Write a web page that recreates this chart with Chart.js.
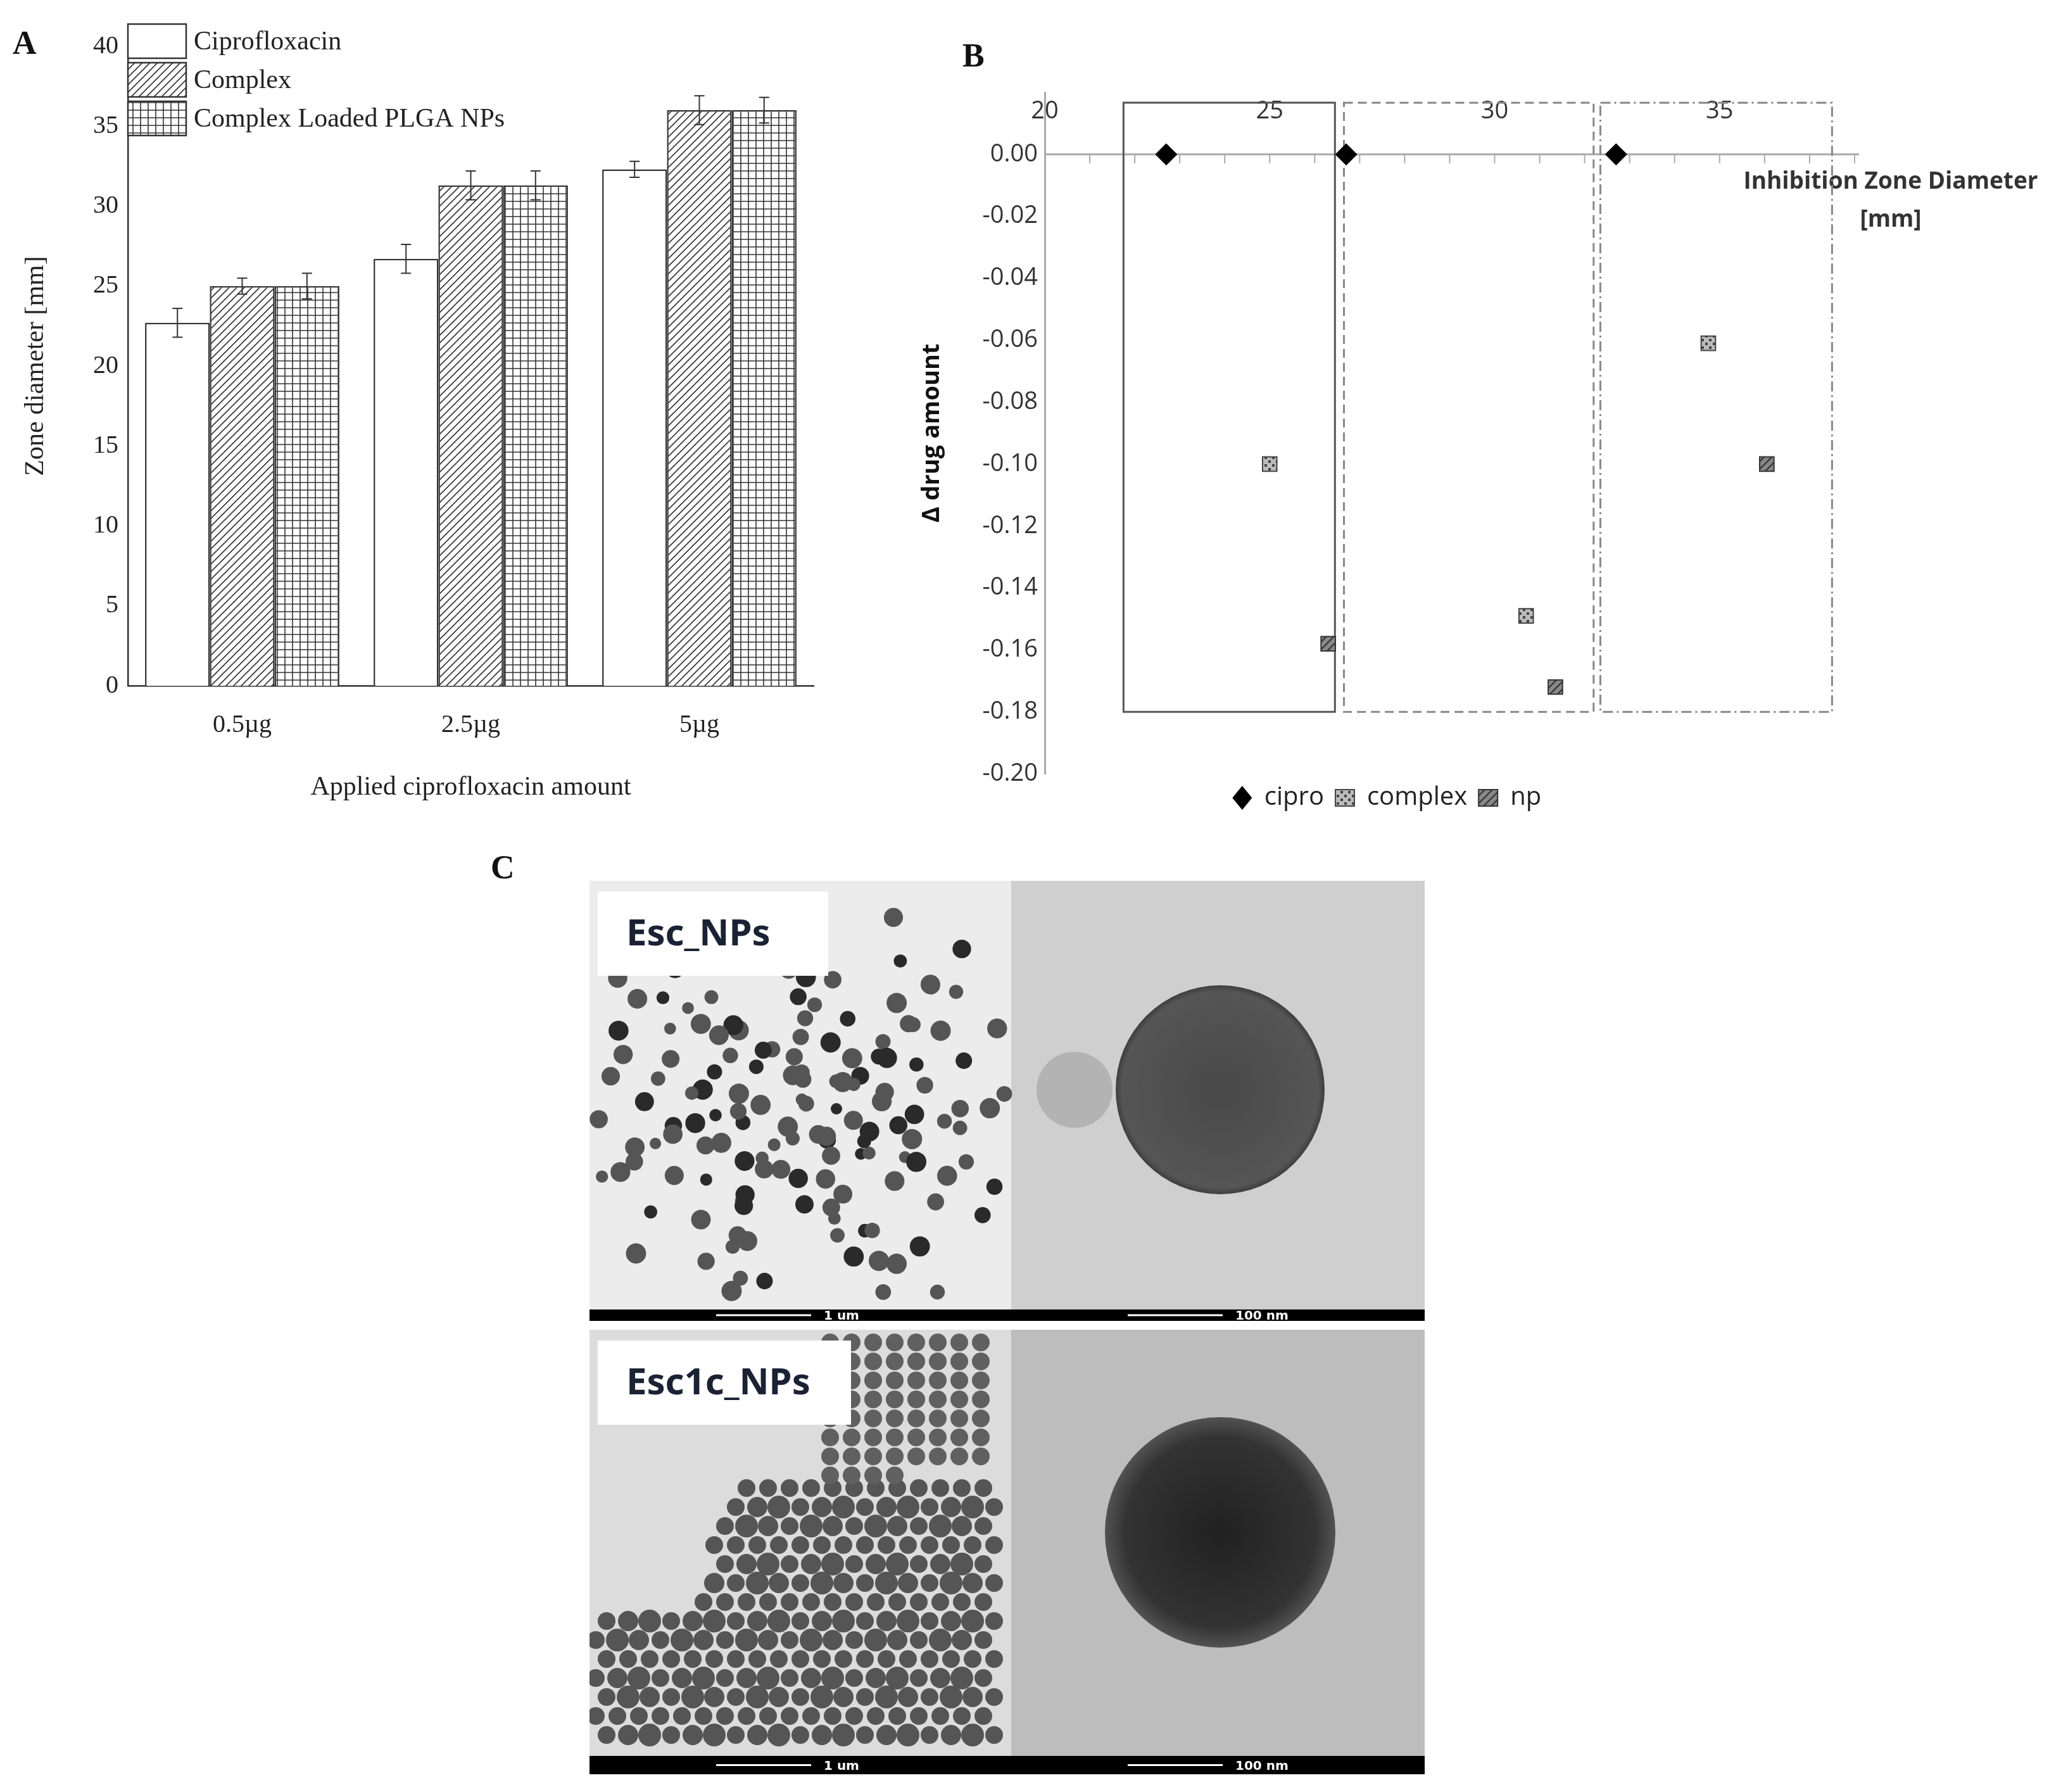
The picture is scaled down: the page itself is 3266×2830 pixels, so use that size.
<!DOCTYPE html>
<html>
<head>
<meta charset="utf-8">
<script src="https://cdn.jsdelivr.net/npm/chart.js@4"></script>
<style>
body { margin: 0; background: #fff; width: 3266px; height: 2830px; position: relative; overflow: hidden; }
canvas { position: absolute; }
.lbl { position: absolute; font: bold 52px "Liberation Serif"; color: #111; }
</style>
</head>
<body>
<div class="lbl" style="left:20px;top:38px">A</div>
<div class="lbl" style="left:1520px;top:58px">B</div>
<div class="lbl" style="left:775px;top:1340px">C</div>
<canvas id="chartA" style="left:0;top:0" width="1330" height="1300"></canvas>
<canvas id="chartB" style="left:1420px;top:0" width="1846" height="1300"></canvas>
<canvas id="micro" style="left:931px;top:1391px" width="1319" height="1411"></canvas>
<script>
// ---- panel A data
const amounts = ['0.5µg', '2.5µg', '5µg'];
const seriesA = ['Ciprofloxacin', 'Complex', 'Complex Loaded PLGA NPs'];
const ciproZone = [22.7, 26.7, 32.3];
const complexZone = [25.0, 31.3, 36.0];
const npZone = [25.0, 31.3, 36.0];
const ciproErr = [0.9, 0.9, 0.5];
const complexErr = [0.5, 0.9, 0.9];
const npErr = [0.8, 0.9, 0.8];

// ---- panel B data
const ciproPts = [[22.7, 0], [26.7, 0], [32.7, 0]];
const complexPts = [[25.0, -0.10], [30.7, -0.149], [34.75, -0.061]];
const npPts = [[26.3, -0.158], [31.35, -0.172], [36.05, -0.10]];
const xTicksB = [20, 25, 30, 35];
const boxX = [[21.75, 26.45], [26.65, 32.2], [32.35, 37.5]];
const boxY = [0.0167, -0.18];

function hatch(kind, bg) {
    const c = document.createElement('canvas');
    c.width = 12; c.height = 12;
    const g = c.getContext('2d');
    g.fillStyle = bg || '#fff'; g.fillRect(0, 0, 12, 12);
    g.strokeStyle = '#333'; g.lineWidth = 1.6;
    g.beginPath();
    if (kind === 'diag') {
        g.moveTo(0, 12); g.lineTo(12, 0);
        g.moveTo(-6, 6); g.lineTo(6, -6);
        g.moveTo(6, 18); g.lineTo(18, 6);
    } else if (kind === 'grid') {
        g.moveTo(6, 0); g.lineTo(6, 12);
        g.moveTo(0, 6); g.lineTo(12, 6);
    } else if (kind === 'dots') {
        g.fillStyle = '#444';
        g.fillRect(1, 1, 4, 4); g.fillRect(7, 7, 4, 4);
    } else {
        g.lineWidth = 2.2;
        g.moveTo(0, 12); g.lineTo(12, 0);
        g.moveTo(-6, 6); g.lineTo(6, -6);
        g.moveTo(6, 18); g.lineTo(18, 6);
    }
    g.stroke();
    return document.getElementById('chartA').getContext('2d').createPattern(c, 'repeat');
}
const fillsA = ['#fff', hatch('diag'), hatch('grid')];
const errsA = [ciproErr, complexErr, npErr];

const errorBars = {
    id: 'errorBars',
    afterDatasetsDraw(chart) {
        const ctx = chart.ctx, y = chart.scales.y;
        ctx.save(); ctx.strokeStyle = '#333'; ctx.lineWidth = 2;
        chart.data.datasets.forEach((ds, i) => {
            chart.getDatasetMeta(i).data.forEach((bar, j) => {
                const v = ds.data[j], e = errsA[i][j];
                const t = y.getPixelForValue(v + e), b = y.getPixelForValue(v - e);
                ctx.beginPath();
                ctx.moveTo(bar.x, t); ctx.lineTo(bar.x, b);
                ctx.moveTo(bar.x - 8, t); ctx.lineTo(bar.x + 8, t);
                ctx.moveTo(bar.x - 8, b); ctx.lineTo(bar.x + 8, b);
                ctx.stroke();
            });
        });
        ctx.restore();
    }
};
const legendA = {
    id: 'legendA',
    afterDraw(chart) {
        const ctx = chart.ctx;
        ctx.save();
        ctx.font = '42px "Liberation Serif"'; ctx.textBaseline = 'middle';
        seriesA.forEach((s, i) => {
            const top = 38 + i * 61;
            ctx.fillStyle = fillsA[i]; ctx.fillRect(202, top, 92, 54);
            ctx.strokeStyle = '#333'; ctx.lineWidth = 2.5; ctx.strokeRect(202, top, 92, 54);
            ctx.fillStyle = '#222'; ctx.fillText(s, 306, top + 29);
        });
        ctx.restore();
    }
};

new Chart(document.getElementById('chartA'), {
    type: 'bar',
    data: {
        labels: amounts,
        datasets: [ciproZone, complexZone, npZone].map((d, i) => ({
            label: seriesA[i], data: d, backgroundColor: fillsA[i],
            borderColor: '#333', borderWidth: 2.5, categoryPercentage: 0.85, barPercentage: 1
        }))
    },
    options: {
        responsive: false, animation: false,
        layout: { padding: { top: 73, right: 45, left: 32, bottom: 27 } },
        plugins: { legend: { display: false }, tooltip: { enabled: false } },
        scales: {
            x: {
                afterFit: s => { s.height = 190; },
                grid: { display: false },
                border: { color: '#333', width: 2.5 },
                ticks: { color: '#222', font: { family: 'Liberation Serif', size: 40 }, padding: 30 },
                title: { display: true, text: 'Applied ciprofloxacin amount', color: '#222', font: { family: 'Liberation Serif', size: 42 }, padding: { top: 0 } }
            },
            y: {
                min: 0, max: 40,
                afterFit: s => { s.width = 170; },
                grid: { display: false, drawOnChartArea: false, drawTicks: true, tickLength: 12, color: '#333' },
                border: { color: '#333', width: 2.5 },
                ticks: { stepSize: 5, color: '#222', font: { family: 'Liberation Serif', size: 40 } },
                title: { display: true, text: 'Zone diameter [mm]', color: '#222', font: { family: 'Liberation Serif', size: 42 }, padding: { top: 0, bottom: 0 } }
            }
        }
    },
    plugins: [errorBars, legendA]
});

// ---- panel B
const boxesB = {
    id: 'boxesB',
    beforeDatasetsDraw(chart) {
        const ctx = chart.ctx, x = chart.scales.x, y = chart.scales.y;
        ctx.save();
        const y0 = y.getPixelForValue(0);
        ctx.strokeStyle = '#aaa'; ctx.lineWidth = 3;
        ctx.beginPath(); ctx.moveTo(x.left, y0); ctx.lineTo(x.right, y0); ctx.stroke();
        ctx.lineWidth = 2;
        for (let v = 21; v <= 38; v++) {
            const px = x.getPixelForValue(v);
            ctx.beginPath(); ctx.moveTo(px, y0); ctx.lineTo(px, y0 + 14); ctx.stroke();
        }
        ctx.fillStyle = '#333'; ctx.font = '38px "Open Sans"'; ctx.textAlign = 'center'; ctx.textBaseline = 'middle';
        xTicksB.forEach(v => ctx.fillText(String(v), x.getPixelForValue(v), y0 - 68));
        ctx.font = 'bold 37px "Open Sans"';
        ctx.fillText('Inhibition Zone Diameter', x.right + 50, y0 + 44);
        ctx.fillText('[mm]', x.right + 50, y0 + 104);
        const dashes = [[], [14, 8], [16, 6, 3, 6]];
        boxX.forEach((b, i) => {
            ctx.setLineDash(dashes[i]);
            ctx.strokeStyle = i === 0 ? '#555' : '#888'; ctx.lineWidth = 3;
            const l = x.getPixelForValue(b[0]), r = x.getPixelForValue(b[1]);
            const t = y.getPixelForValue(boxY[0]), bt = y.getPixelForValue(boxY[1]);
            ctx.strokeRect(l, t, r - l, bt - t);
        });
        ctx.restore();
    }
};
const toXY = p => ({ x: p[0], y: p[1] });
const patComplex = hatch('dots', '#bbb');
const patNp = hatch('np', '#888');
new Chart(document.getElementById('chartB'), {
    type: 'scatter',
    data: {
        datasets: [
            { label: 'cipro', data: ciproPts.map(toXY), pointStyle: 'rectRot', pointRadius: 17, backgroundColor: '#000', borderColor: '#000' },
            { label: 'complex', data: complexPts.map(toXY), pointStyle: 'rect', pointRadius: 16, backgroundColor: patComplex, borderColor: '#444', borderWidth: 2 },
            { label: 'np', data: npPts.map(toXY), pointStyle: 'rect', pointRadius: 16, backgroundColor: patNp, borderColor: '#333', borderWidth: 2 }
        ]
    },
    options: {
        responsive: false, animation: false,
        layout: { padding: { top: 146, right: 330, left: 25, bottom: 10 } },
        plugins: {
            tooltip: { enabled: false },
            legend: {
                position: 'bottom',
                labels: { usePointStyle: true, pointStyleWidth: 30, boxHeight: 26, color: '#222', font: { family: 'Open Sans', size: 40 }, padding: 18 }
            }
        },
        scales: {
            x: { type: 'linear', min: 20, max: 38.1, display: false },
            y: {
                min: -0.20, max: 0.02,
                afterFit: s => { s.width = 205; },
                grid: { display: false },
                border: { color: '#aaa', width: 3 },
                ticks: {
                    stepSize: 0.02, color: '#333', font: { family: 'Open Sans', size: 38 },
                    callback: v => v > 0.01 ? '' : v.toFixed(2)
                },
                title: { display: true, text: 'Δ drug amount', color: '#111', font: { family: 'Open Sans', size: 38, weight: 'bold' } }
            }
        }
    },
    plugins: [boxesB]
});

// ---- panel C: micrograph sketches
(function () {
    const c = document.getElementById('micro').getContext('2d');
    const W = 666, H = 677, R = 653;
    function panel(x, y, w, h, bg) { c.fillStyle = bg; c.fillRect(x, y, w, h); }
    function dot(x, y, r, col) { c.fillStyle = col; c.beginPath(); c.arc(x, y, r, 0, Math.PI * 2); c.fill(); }
    panel(0, 0, W, H, '#ececec'); panel(W, 0, R, H, '#cfcfcf');
    for (let i = 0; i < 160; i++) {
        const a = i * 2.399, rr = 9 + 7 * Math.abs(Math.sin(i * 1.7));
        const cx = 330 + Math.cos(a) * (60 + i * 2.1) + 80 * Math.sin(i * 0.37);
        const cy = 360 + Math.sin(a) * (40 + i * 1.8);
        if (cx > 10 && cx < W - 10 && cy > 10 && cy < H - 10) dot(cx, cy, rr, i % 3 ? '#555' : '#2a2a2a');
    }
    const g1 = c.createRadialGradient(W + 330, 330, 20, W + 330, 330, 170);
    g1.addColorStop(0, '#4a4a4a'); g1.addColorStop(0.9, '#555'); g1.addColorStop(1, '#333');
    c.fillStyle = g1; c.beginPath(); c.arc(W + 330, 330, 165, 0, Math.PI * 2); c.fill();
    dot(W + 100, 330, 60, 'rgba(160,160,160,0.6)');
    const y2 = 709;
    panel(0, y2, W, 673, '#dcdcdc'); panel(W, y2, R, 673, '#bdbdbd');
    for (let row = 0; row < 20; row++) {
        for (let col = 0; col < 20; col++) {
            const cx = col * 34 + (row % 2) * 17 + 10, cy = y2 + 250 + row * 30;
            if (cx < W - 12 && cy < y2 + 660 && (cx + row * 9 > 220 || row > 6)) dot(cx, cy, 14 + (col * row % 3) * 2, '#555');
        }
    }
    for (let i = 0; i < 60; i++) dot(380 + (i % 8) * 34, y2 + 20 + Math.floor(i / 8) * 30, 14, '#606060');
    const g2 = c.createRadialGradient(W + 330, y2 + 320, 10, W + 330, y2 + 320, 185);
    g2.addColorStop(0, '#222'); g2.addColorStop(0.8, '#333'); g2.addColorStop(1, '#555');
    c.fillStyle = g2; c.beginPath(); c.arc(W + 330, y2 + 320, 182, 0, Math.PI * 2); c.fill();
    [[H, 18], [y2 + 673, 29]].forEach(([sy, sh]) => {
        c.fillStyle = '#000'; c.fillRect(0, sy, 1319, sh);
        c.strokeStyle = '#fff'; c.lineWidth = 3; c.fillStyle = '#fff'; c.font = 'bold 20px "DejaVu Sans"';
        c.beginPath(); c.moveTo(200, sy + sh / 2); c.lineTo(350, sy + sh / 2); c.moveTo(850, sy + sh / 2); c.lineTo(1000, sy + sh / 2); c.stroke();
        c.fillText('1 um', 370, sy + sh / 2 + 7); c.fillText('100 nm', 1020, sy + sh / 2 + 7);
    });
    [['Esc_NPs', 13, 17, 364], ['Esc1c_NPs', 13, y2 + 17, 400]].forEach(([t, x, y, w]) => {
        c.fillStyle = '#fff'; c.fillRect(x, y, w, 133);
        c.fillStyle = '#1a2233'; c.font = 'bold 58px "Noto Sans"'; c.fillText(t, x + 45, y + 85);
    });
})();
</script>
</body>
</html>
